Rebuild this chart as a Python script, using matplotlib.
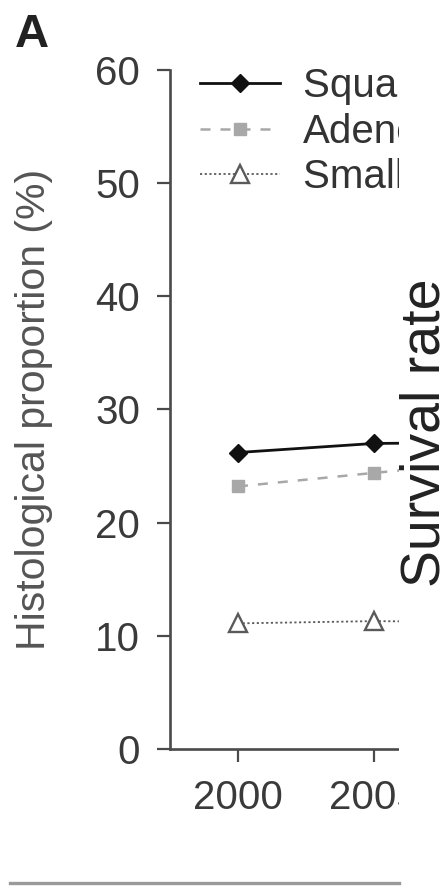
import matplotlib
matplotlib.use("Agg")
import matplotlib.pyplot as plt
from matplotlib.patches import Rectangle
from matplotlib.lines import Line2D
import numpy as np

plt.rcParams['font.family'] = ['Liberation Sans', 'DejaVu Sans']

years = ["2000", "2005", "2010"]
squamous = [26.2, 27.0, 27.1]
adeno = [23.2, 24.4, 25.5]
small = [11.1, 11.3, 11.2]
labels = ["Squamous cell carcinoma", "Adenocarcinoma", "Small cell carcinoma"]
yticks = [0, 10, 20, 30, 40, 50, 60]

W, H = 447, 888
fig = plt.figure(figsize=(W / 100, H / 100), dpi=100)
fig.patch.set_facecolor('white')

def fx(x):
    return x / W

def fy(y):
    return 1 - y / H

ax = fig.add_axes([fx(170), fy(749), 408 / W, 679 / H])
x = np.arange(len(years))

ax.plot(x, squamous, color='#111111', lw=2.0, marker='D', ms=9.5,
        label=labels[0], clip_on=False)
ax.plot(x, adeno, color='#a8a8a8', lw=1.8, linestyle=(0, (4.0, 4.0)),
        marker='s', ms=9, label=labels[1], clip_on=False)
ax.plot(x, small, color='#5a5a5a', lw=1.3, linestyle=(0, (1.2, 1.4)),
        marker='^', ms=12.5, mfc='white', mec='#5a5a5a', mew=1.7,
        label=labels[2], clip_on=False)

ax.set_xlim(-0.5, len(years) - 0.5)
ax.set_ylim(0, 60)
ax.set_yticks(yticks)
ax.set_xticks(x)
ax.set_xticklabels(years)

for s in ['top', 'right']:
    ax.spines[s].set_visible(False)
for s in ['left', 'bottom']:
    ax.spines[s].set_linewidth(1.9)
    ax.spines[s].set_color('#4a4a4a')

ax.tick_params(direction='out', length=9.5, width=1.6, pad=12,
               labelsize=29, colors='#4a4a4a', labelcolor='#3a3a3a')

ax.set_ylabel('Histological proportion (%)', fontsize=29.5, color='#555555')
ax.yaxis.set_label_coords((53 - 170) / 408, 0.5)

leg = ax.legend(loc='upper left', bbox_to_anchor=(fx(200), fy(67)),
                bbox_transform=fig.transFigure, frameon=False,
                fontsize=29, borderpad=0, borderaxespad=0,
                handlelength=1.985, handletextpad=0.57, labelspacing=0.19,
                numpoints=1)
for t in leg.get_texts():
    t.set_color('#333333')

# crop edge: everything right of x=399 is white
fig.add_artist(Rectangle((fx(398.5), 0), 1, 1, transform=fig.transFigure,
                         facecolor='white', edgecolor='none', zorder=10))
# bottom grey rule
fig.add_artist(Line2D([fx(10), fx(399)], [fy(883), fy(883)],
                      transform=fig.transFigure, lw=2.4, color='#9a9a9a', zorder=11))

fig.text(fx(15), fy(47), 'A', fontsize=34, fontweight='bold', color='#222222',
         ha='left', va='baseline')
fig.text(fx(440), fy(587), 'Survival rate', fontsize=40, color='#222222',
         rotation=90, rotation_mode='anchor', ha='left', va='baseline', zorder=20)

fig.savefig('out.png', dpi=100, facecolor='white')
